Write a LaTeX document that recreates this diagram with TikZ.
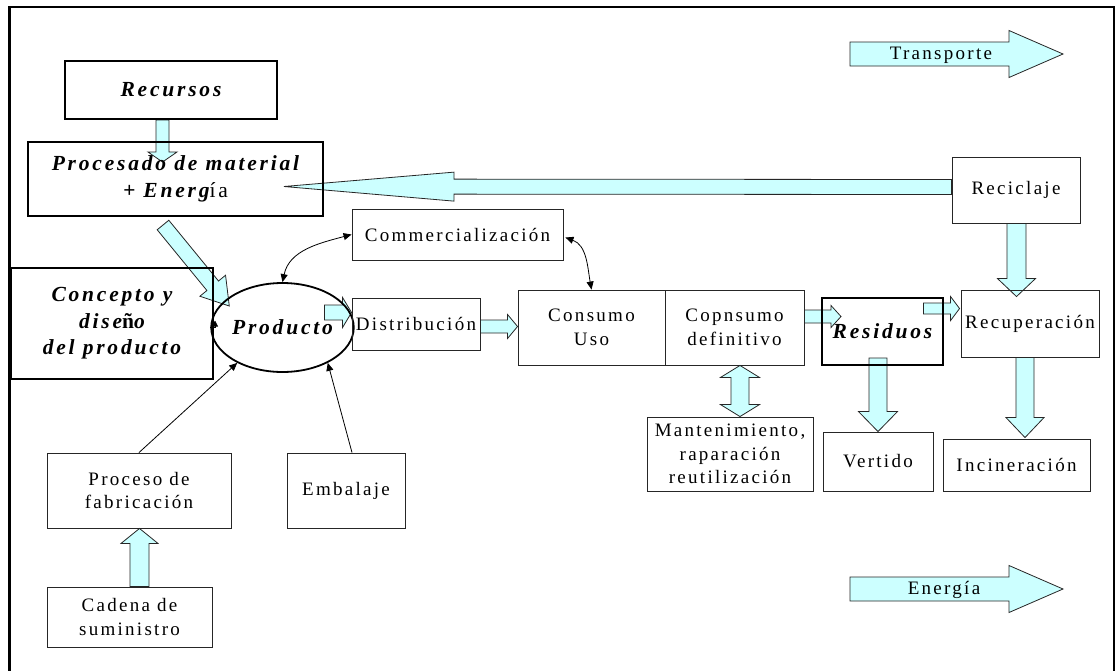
\documentclass[tikz,border=0pt]{standalone}
\usepackage{fontspec}
\setmainfont{Liberation Serif}[LetterSpace=12]
\newfontfamily\bfam{Liberation Serif}[LetterSpace=13]
\usetikzlibrary{shapes.geometric,arrows.meta,calc}
\definecolor{cyanfill}{RGB}{204,255,255}
\tikzset{
  box/.style={draw=black!85, line width=0.9pt, inner sep=0pt, align=center,
    font=\fontsize{19}{23.5}\selectfont},
  tbox/.style={draw=black, line width=2pt, inner sep=0pt, align=center,
    font=\fontsize{21.5}{26.5}\selectfont\bfam\bfseries\itshape},
  barrow/.style={draw=black!85, fill=cyanfill, line width=0.8pt, line join=miter},
  thinarrow/.style={draw=black, line width=0.8pt, -{Triangle[length=8pt,width=7pt]}},
  thinboth/.style={draw=black, line width=0.8pt, {Triangle[length=8pt,width=7pt]}-{Triangle[length=8pt,width=7pt]}},
}
% block arrow: start, tip, shaft half width, head half width, head length
\newcommand\barrowpath[5]{%
  \draw[barrow] let \p1=#1, \p2=#2, \n1={atan2(\y2-\y1,\x2-\x1)},
    \n2={veclen(\x2-\x1,\y2-\y1)}, \n3={\n2-#5} in
   ($(\p1)+(\n1+90:#3)$) -- ($(\p1)+(\n1:\n3)+(\n1+90:#3)$) --
   ($(\p1)+(\n1:\n3)+(\n1+90:#4)$) -- (\p2) --
   ($(\p1)+(\n1:\n3)+(\n1-90:#4)$) -- ($(\p1)+(\n1:\n3)+(\n1-90:#3)$) --
   ($(\p1)+(\n1-90:#3)$) -- cycle;}
\newcommand\dbarrowpath[5]{%
  \draw[barrow] let \p1=#1, \p2=#2, \n1={atan2(\y2-\y1,\x2-\x1)},
    \n2={veclen(\x2-\x1,\y2-\y1)}, \n3={\n2-#5} in
   (\p1) -- ($(\p1)+(\n1:#5)+(\n1+90:#4)$) -- ($(\p1)+(\n1:#5)+(\n1+90:#3)$) --
   ($(\p1)+(\n1:\n3)+(\n1+90:#3)$) -- ($(\p1)+(\n1:\n3)+(\n1+90:#4)$) -- (\p2) --
   ($(\p1)+(\n1:\n3)+(\n1-90:#4)$) -- ($(\p1)+(\n1:\n3)+(\n1-90:#3)$) --
   ($(\p1)+(\n1:#5)+(\n1-90:#3)$) -- ($(\p1)+(\n1:#5)+(\n1-90:#4)$) -- cycle;}
\begin{document}
\begin{tikzpicture}[x=1pt,y=1pt]
\useasboundingbox (0,0) rectangle (1117,-670);
% frame
\draw[line width=2.5pt] (9.5,-672) -- (9.5,-7) -- (1114,-7) -- (1114,-672);

% node positions (coordinates only; nodes drawn later on top)
\path
  node[tbox, draw=none, minimum width=212pt, minimum height=58pt] (rec) at (171,-90) {}
  node[tbox, draw=none, minimum width=295pt, minimum height=74pt] (proc) at (175.5,-179) {}
  node[ellipse, minimum width=121pt, minimum height=89pt, inner sep=0pt] (prod) at (282.5,-327.5) {}
  node[box, draw=none, minimum width=211pt, minimum height=51pt] (comm) at (457.5,-234.5) {}
  node[box, draw=none, minimum width=128pt, minimum height=52pt] (dist) at (416,-324) {}
  node[box, draw=none, minimum width=147pt, minimum height=75pt] (cons) at (591.5,-327.5) {}
  node[box, draw=none, minimum width=139pt, minimum height=75pt] (copn) at (734.5,-327.5) {}
  node[box, draw=none, minimum width=166pt, minimum height=74pt] (mant) at (730,-454) {}
  node[tbox, draw=none, minimum width=121pt, minimum height=67pt] (resid) at (882.5,-331.5) {}
  node[box, draw=none, minimum width=138pt, minimum height=67pt] (recup) at (1030,-323.5) {}
  node[box, draw=none, minimum width=128pt, minimum height=66pt] (recic) at (1016,-190) {}
  node[box, draw=none, minimum width=110pt, minimum height=59pt] (vert) at (878,-461.5) {}
  node[box, draw=none, minimum width=147pt, minimum height=52pt] (incin) at (1016.5,-465) {}
  node[box, draw=none, minimum width=184pt, minimum height=75pt] (fab) at (139,-490.5) {}
  node[box, draw=none, minimum width=165pt, minimum height=60pt] (cad) at (129.5,-617) {};
\coordinate (trA) at (850,-54);
\coordinate (trB) at (1063,-54);
\coordinate (enA) at (850,-589);
\coordinate (enB) at (1063,-589);

% block arrows
\barrowpath{(trA)}{(trB)}{12}{23.5}{54}
\barrowpath{(enA)}{(enB)}{12}{23.5}{54}
\barrowpath{($(rec.south)+(-8.5,0)$)}{($(proc.north)+(-13,-21)$)}{6.5}{14.5}{10}
\barrowpath{($(proc.south)+(-12.5,-8)$)}{(prod.158)}{7.5}{16.6}{26}
\barrowpath{($(dist.west)+(-27,11.5)$)}{($(dist.west)+(0,11.5)$)}{7.5}{15}{9}
\barrowpath{($(dist.east)+(0,-2.5)$)}{($(cons.west)+(0,1)$)}{6.5}{12}{10}
\barrowpath{($(copn.east)+(0,11)$)}{($(resid.west)+(20,15)$)}{6.5}{11}{10}
\barrowpath{($(recup.west)+(-37,15)$)}{($(recup.west)+(-1,15)$)}{5.5}{12}{9}
\barrowpath{($(resid.south)+(-4.5,8)$)}{(vert.north)}{9}{19.5}{20}
\barrowpath{($(recup.south)+(-5,0)$)}{($(incin.north)+(8.5,1)$)}{9}{19}{20}
\barrowpath{($(recic.south)+(0.5,0)$)}{($(recup.north)+(-13.5,-7)$)}{9.5}{19}{18}
\barrowpath{($(recic.west)+(0,3)$)}{($(proc.east)+(-40,-7.5)$)}{7.5}{14.5}{170}
\barrowpath{($(cad.north)+(10,0)$)}{($(fab.south)+(0.5,0)$)}{9.5}{18.5}{15}
\dbarrowpath{($(copn.south)+(5.5,0)$)}{($(mant.north)+(10,0)$)}{9}{19.5}{12}

% nodes
\node[tbox, minimum width=212pt, minimum height=58pt] (rec) at (171,-90) {Recursos};
\node[tbox, minimum width=295pt, minimum height=74pt] (proc) at (175.5,-179)
  {Procesado de material\\+ Energ{\mdseries\upshape ía}};
\node[tbox, minimum width=202pt, minimum height=111pt] (conc) at (112,-323.5)
  {Concepto y\\dise{\upshape ñ}o\\del producto};
\node[ellipse, draw=black, line width=1.8pt, minimum width=121pt, minimum height=89pt,
  inner sep=0pt, font=\fontsize{21.5}{26.5}\selectfont\bfam\bfseries\itshape] (prod) at (282.5,-327.5) {Producto};
\node[box, minimum width=211pt, minimum height=51pt] (comm) at (457.5,-234.5) {Commercialización};
\node[box, minimum width=128pt, minimum height=52pt] (dist) at (416,-324) {Distribución};
\node[box, minimum width=147pt, minimum height=75pt] (cons) at (591.5,-327.5) {Consumo\\Uso};
\node[box, minimum width=139pt, minimum height=75pt] (copn) at (734.5,-327.5) {Copnsumo\\definitivo};
\node[box, minimum width=166pt, minimum height=74pt] (mant) at (730,-454)
  {Mantenimiento,\\raparación\\reutilización};
\node[tbox, minimum width=121pt, minimum height=67pt] (resid) at (882.5,-331.5) {Residuos};
\node[box, minimum width=138pt, minimum height=67pt] (recup) at (1030,-323.5) {Recuperación};
\node[box, minimum width=128pt, minimum height=66pt] (recic) at (1016,-190) {Reciclaje};
\node[box, minimum width=110pt, minimum height=59pt] (vert) at (878,-461.5) {Vertido};
\node[box, minimum width=147pt, minimum height=52pt] (incin) at (1016.5,-465) {Incineración};
\node[box, minimum width=184pt, minimum height=75pt] (fab) at (139,-490.5) {Proceso de\\fabricación};
\node[box, minimum width=118pt, minimum height=75pt] (emb) at (346,-490.5) {Embalaje};
\node[box, minimum width=165pt, minimum height=60pt] (cad) at (129.5,-617) {Cadena de\\suministro};
\node[font=\fontsize{19}{22}\selectfont, inner sep=0pt] (tr) at (941,-55) {Transporte};
\node[font=\fontsize{19}{22}\selectfont, inner sep=0pt] (en) at (944,-590) {Energía};

% thin connectors
\draw[thinarrow] (fab.north) -- (prod.218);
\draw[thinarrow] ($(emb.north)+(6,0)$) -- (prod.322);
\draw[draw=black, line width=0.8pt, -{Triangle[length=6pt,width=6pt]}] (prod.west) -- ($(conc.east)+(1,-4)$) -- ($(conc.east)+(1,3)$);
\draw[thinboth] (prod.north) to[out=78,in=195] (comm.west);
\draw[thinboth] ($(comm.east)+(2,-3)$) to[out=-20,in=100] (cons.north);
\end{tikzpicture}
\end{document}
